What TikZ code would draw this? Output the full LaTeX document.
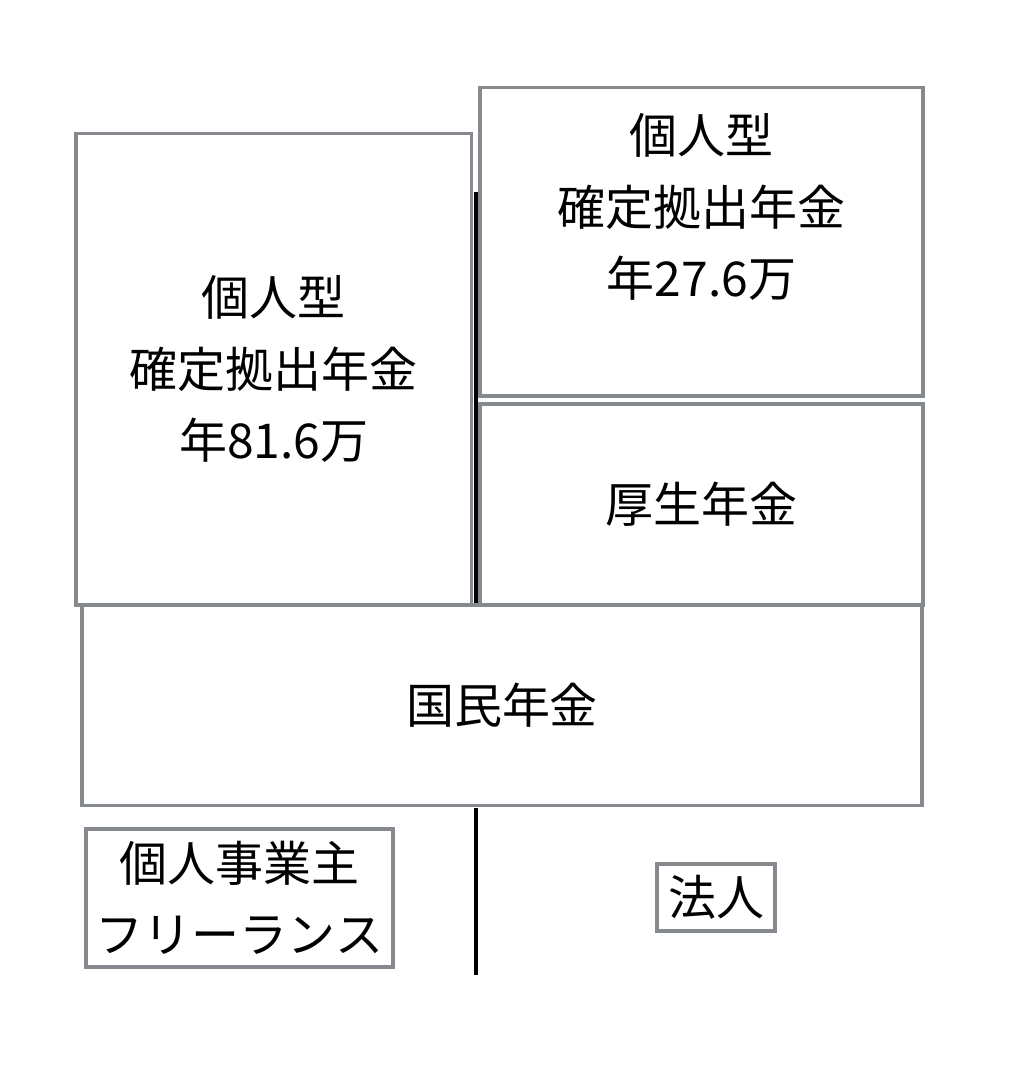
\documentclass[tikz,border=0pt]{standalone}
\usepackage{fontspec}
\setmainfont{Noto Sans CJK JP}
\usepackage{tikz}
\usetikzlibrary{calc}
\definecolor{boxgray}{RGB}{134,137,141}

\begin{document}
\begin{tikzpicture}[x=0.5pt, y=-0.5pt,
    txt/.style={inner sep=0pt, align=center, font=\fontsize{24pt}{35.75pt}\selectfont},
    box/.style={txt, draw=boxgray, line width=1.9pt, outer sep=0pt},
    divider/.style={black, line width=2pt}]
    \useasboundingbox (0,0) rectangle (1036,1084);

    % 個人事業主・フリーランス(左)
    \node[box, minimum width=197.75pt, minimum height=235.75pt] (ideco81) at (273.75,369.25) {個人型\\確定拠出年金\\年81.6万};

    % 法人(右)
    \node[box, minimum width=221.5pt, minimum height=154.25pt] (ideco27) at (701.5,241.75) {};
    \node[txt] (ideco27txt) at ($(ideco27.north)+(0,119.5)$) {個人型\\確定拠出年金\\年27.6万};
    \node[box, minimum width=221.5pt, minimum height=100.5pt] (kosei) at (701.5,504.5) {厚生年金};

    % 共通の土台
    \node[box, minimum width=420pt, minimum height=100.25pt] (kokumin) at (502,705.25) {国民年金};

    % 区分
    \node[box, minimum width=153.5pt, minimum height=69pt] (jieigyo) at (239.5,898) {個人事業主\\フリーランス};
    \node[box, minimum width=59pt, minimum height=33.5pt] (hojin) at (716,897.5) {法人};

    % 仕切り線
    \coordinate (divtop) at (476,192);
    \coordinate (divbot) at (476,975);
    \draw[divider, shorten >=1pt] (divtop) -- (divtop |- kokumin.north);
    \draw[divider, shorten <=1.25pt] (divtop |- kokumin.south) -- (divbot);
\end{tikzpicture}
\end{document}
